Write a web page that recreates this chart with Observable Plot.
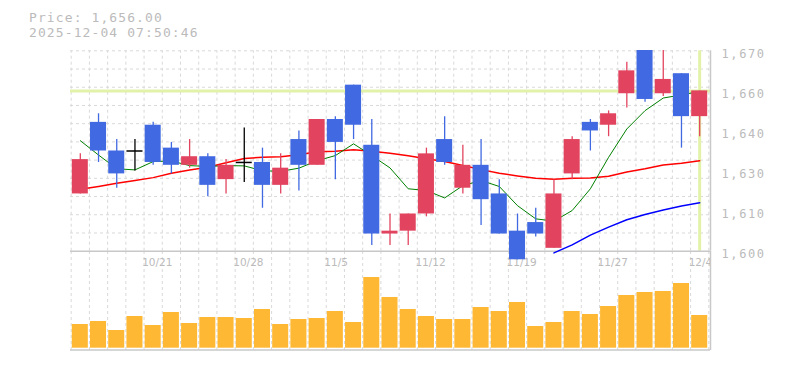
<!DOCTYPE html>
<html><head><meta charset="utf-8">
<script src="https://cdn.jsdelivr.net/npm/d3@7"></script>
<script src="https://cdn.jsdelivr.net/npm/@observablehq/plot@0.6"></script>
<style>
body{margin:0;background:#fff;}
#wrap{position:relative;width:785px;height:370px;overflow:hidden;background:#fff;}
#wrap svg{position:absolute;left:0;top:0;}
.title{position:absolute;left:29px;top:10px;font-family:"DejaVu Sans Mono",monospace;font-size:13px;line-height:15px;letter-spacing:1.1px;color:#bbb;white-space:pre;}
svg.pricechart g[aria-label="text"] text{letter-spacing:1.6px;}
</style></head><body>
<div id="wrap"><div class="title" id="title"></div></div>
<script>
const titleLines = ["Price: 1,656.00", "2025-12-04 07:50:46"];
const currentPrice = 1656;

const dates = ["10/15","10/16","10/17","10/20","10/21","10/22","10/23","10/24","10/27","10/28",
  "10/29","10/30","10/31","11/4","11/5","11/6","11/7","11/10","11/11","11/12",
  "11/13","11/14","11/17","11/18","11/19","11/20","11/21","11/25","11/26","11/27",
  "11/28","12/1","12/2","12/3","12/4"];
const open  = [1620,1645,1635,1635,1644,1636,1630,1633,1625,1631,1631,1623,1639,1630,1646,1658,1637,1606,1607,1613,1639,1622,1630,1620,1607,1610,1601,1627,1645,1644,1655,1672,1655,1662,1647];
const high  = [1634,1648,1639,1639,1645,1638,1639,1634,1632,1643,1636,1634,1642,1646,1647,1658,1646,1613,1613,1636,1647,1637,1639,1625,1613,1615,1625,1640,1646,1649,1666,1675,1673,1662,1656];
const low   = [1620,1631,1622,1628,1630,1627,1629,1619,1620,1624,1615,1620,1621,1630,1625,1639,1602,1602,1602,1612,1630,1620,1609,1606,1597,1605,1601,1625,1635,1640,1650,1652,1654,1636,1640];
const close = [1632,1635,1627,1635,1631,1630,1633,1623,1630,1631,1623,1629,1630,1646,1638,1644,1606,1607,1613,1634,1631,1630,1618,1606,1597,1606,1620,1639,1642,1648,1663,1653,1660,1647,1656];
const volume = [237,267,177,317,227,357,247,307,307,297,387,237,287,297,367,257,707,507,387,317,287,287,407,367,457,217,257,367,337,417,527,557,567,647,327];
const ma5  = [1638.6,1633.6,1628.8,1628.4,1631.3,1631.5,1629.9,1629.6,1629.9,1629.8,1628.1,1627.9,1629.0,1631.6,1633.4,1637.5,1633.4,1629.1,1621.8,1621.2,1618.6,1622.9,1624.7,1622.6,1615.9,1611.3,1610.5,1614.2,1621.8,1632.8,1642.7,1649.1,1653.5,1654.6,1655.8];
const ma25 = [1621.6,1622.6,1623.7,1624.7,1625.7,1627.2,1628.4,1629.3,1630.9,1632.4,1632.8,1633.0,1633.7,1634.7,1634.9,1635.4,1634.9,1634.2,1633.3,1632.3,1631.3,1629.9,1628.5,1627.2,1626.3,1625.5,1625.1,1625.5,1625.6,1626.2,1627.7,1628.8,1630.1,1630.7,1631.6];
const ma75 = [null,null,null,null,null,null,null,null,null,null,null,null,null,null,null,null,null,null,null,null,null,null,null,null,null,null,1599.4,1602.2,1605.6,1608.4,1611.0,1612.8,1614.4,1615.8,1616.9];
const yTickValues = [1600,1614,1628,1642,1656,1670];
const yTickLabels = ["1,600","1,610","1,630","1,640","1,660","1,670"];
const xTickLabels = ["10/21","10/28","11/5","11/12","11/19","11/27","12/4"];

const UP = "#e2445f", DOWN = "#4169e1", EVEN = "#000000";
const GRID = "#d9d9d9", BORDER = "#c8c8c8", NOW = "#e2f2a8", TXT = "#bbbbbb";

document.getElementById("title").textContent = titleLines.join("\n");

const candles = dates.map((d, i) => ({date: d, open: open[i], high: high[i], low: low[i], close: close[i],
  color: close[i] > open[i] ? UP : close[i] < open[i] ? DOWN : EVEN}));
const bodies = candles.filter(c => c.open !== c.close);
const dojis = candles.filter(c => c.open === c.close);
const vols = dates.map((d, i) => ({date: d, vol: volume[i]}));
const line5 = dates.map((d, i) => ({date: d, v: ma5[i]}));
const line25 = dates.map((d, i) => ({date: d, v: ma25[i]}));
const line75 = dates.map((d, i) => ({date: d, v: ma75[i]})).filter(p => p.v != null);
const last = dates[dates.length - 1];

const x0 = 70.7, x1 = 708.3;
const step = (x1 - x0) / dates.length;
const X = {type: "band", domain: dates, range: [x0, x1], paddingInner: 0.12, paddingOuter: 0.06, round: false, axis: null};
const rightOff = 710 - (x0 + step * (dates.length - 0.5));
const yDomain = [1600, 1670];
const gridVals = d3.range(12).map(k => yDomain[0] + k * (yDomain[1] - yDomain[0]) / 11);
const dashed = {stroke: GRID, strokeDasharray: "3,3", strokeWidth: 1};

const vol = Plot.plot({
  width: 785, height: 370, marginTop: 251, marginBottom: 20, marginLeft: 70, marginRight: 75,
  x: X, y: {domain: [0, 970], range: [347.7, 250.7], axis: null},
  style: {background: "transparent", overflow: "visible"},
  marks: [
    Plot.ruleX(dates, {x: d => d, dx: -step / 2, ...dashed}),
    Plot.ruleX([last], {x: d => d, dx: step / 2, ...dashed}),
    Plot.barY(vols, {x: "date", y: "vol", fill: "#ffb833"}),
    Plot.ruleY([0], {dy: 1.8, stroke: BORDER, strokeWidth: 1.5}),
    Plot.ruleX([last], {x: d => d, dx: rightOff, stroke: BORDER, strokeWidth: 1.5}),
    Plot.text(xTickLabels, {x: d => d, text: d => d, frameAnchor: "top", lineAnchor: "middle", dy: 11, dx: -11,
      textAnchor: "start", fill: TXT, fontSize: 10.5, fontFamily: "DejaVu Sans", clip: true})
  ]
});

const price = Plot.plot({
  width: 785, height: 262, marginTop: 50, marginBottom: 2, marginLeft: 70, marginRight: 75,
  x: X, y: {domain: yDomain, range: [250.7, 50.3], axis: null},
  color: {type: "identity"},
  style: {background: "transparent", overflow: "visible"},
  marks: [
    Plot.ruleY(gridVals.slice(1), dashed),
    Plot.ruleX(dates, {x: d => d, y1: yDomain[0], y2: yDomain[1], dx: -step / 2, ...dashed}),
    Plot.ruleX([last], {x: d => d, y1: yDomain[0], y2: yDomain[1], dx: step / 2, ...dashed}),
    Plot.ruleY([currentPrice], {stroke: NOW, strokeWidth: 3}),
    Plot.ruleX([last], {x: d => d, y1: yDomain[0], y2: yDomain[1], stroke: NOW, strokeWidth: 3}),
    Plot.ruleY([yDomain[0]], {stroke: BORDER, strokeWidth: 1.5}),
    Plot.ruleX([last], {x: d => d, y1: yDomain[0], y2: yDomain[1], dx: rightOff, stroke: BORDER, strokeWidth: 1.5}),
    Plot.line(line75, {x: "date", y: "v", stroke: "#0000ff", strokeWidth: 1.5, clip: true}),
    Plot.line(line25, {x: "date", y: "v", stroke: "#ff0000", strokeWidth: 1.5, clip: true}),
    Plot.line(line5, {x: "date", y: "v", stroke: "#008000", strokeWidth: 1, clip: true}),
    Plot.ruleX(candles, {x: "date", y1: "low", y2: "high", stroke: "color", strokeWidth: 1.3, clip: true}),
    Plot.barY(bodies, {x: "date", y1: "open", y2: "close", fill: "color", clip: true}),
    Plot.tickY(dojis, {x: "date", y: "close", stroke: EVEN, strokeWidth: 1.5, clip: true}),
    Plot.text(yTickValues, {y: d => d, text: (d, i) => yTickLabels[i], frameAnchor: "right", dx: 11, dy: 3,
      textAnchor: "start", fill: TXT, fontSize: 12, fontFamily: "DejaVu Sans Mono"})
  ]
});
price.classList.add("pricechart");

const wrap = document.getElementById("wrap");
wrap.appendChild(vol);
wrap.appendChild(price);
</script>
</body></html>
